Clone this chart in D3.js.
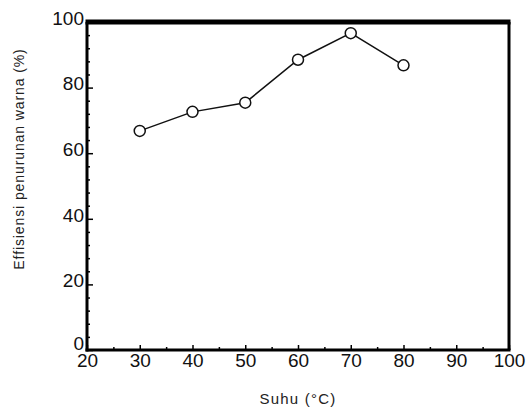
<!DOCTYPE html>
<html><head><meta charset="utf-8">
<script src="https://cdn.jsdelivr.net/npm/d3@7"></script>
<style>body{margin:0;background:#fff}svg{display:block}</style>
</head><body>
<svg id="c" width="528" height="410"></svg>
<script>
const temps = [30, 40, 50, 60, 70, 80];
const efficiency = [66.8, 72.6, 75.4, 88.5, 96.6, 86.8];
const xTicks = [20, 30, 40, 50, 60, 70, 80, 90, 100];
const yTicks = [0, 20, 40, 60, 80, 100];
const xTitle = "Suhu (°C)";
const yTitle = "Effisiensi penurunan warna (%)";

const svg = d3.select("#c");
const L = 87, R = 509, T = 22, B = 350;
const x = d3.scaleLinear().domain([20, 100]).range([L, R]);
const y = d3.scaleLinear().domain([0, 100]).range([B, T]);
const font = "Liberation Sans, Arial, sans-serif";

// Axes
const xAxis = d3.axisBottom(x).tickValues(xTicks).tickSize(-5).tickPadding(3).tickFormat(d3.format("d"));
const xMinor = d3.axisBottom(x).tickValues(d3.range(25, 100, 10)).tickSize(-3).tickFormat("");
const yAxis = d3.axisLeft(y).tickValues(yTicks).tickSize(-6).tickPadding(3).tickFormat(d3.format("d"));
const yMinor = d3.axisLeft(y).tickValues(d3.range(0, 101, 4).filter(v => v % 20 !== 0)).tickSize(-3).tickFormat("");

function style(g){
  g.select(".domain").remove();
  g.selectAll("line").attr("stroke", "#000").attr("stroke-width", 1.5);
  g.selectAll("text").attr("font-family", font).attr("font-size", 19).attr("fill", "#111");
}
svg.append("g").attr("transform", `translate(0,${B})`).call(xAxis).call(style)
  .selectAll("text").attr("dy", "0.72em");
svg.append("g").attr("transform", `translate(0,${B})`).call(xMinor).call(style);
svg.append("g").attr("transform", `translate(${L},0)`).call(yAxis).call(style)
  .selectAll("text").attr("dy", d => d === 0 ? "-0.02em" : "0.12em");
svg.append("g").attr("transform", `translate(${L},0)`).call(yMinor).call(style);

// Frame
svg.append("line").attr("x1", L).attr("x2", L).attr("y1", T).attr("y2", B + 1.5).attr("stroke", "#000").attr("stroke-width", 3);
svg.append("line").attr("x1", L - 1.5).attr("x2", R + 1.5).attr("y1", B).attr("y2", B).attr("stroke", "#000").attr("stroke-width", 3);
svg.append("line").attr("x1", R).attr("x2", R).attr("y1", T).attr("y2", B).attr("stroke", "#000").attr("stroke-width", 3);
svg.append("line").attr("x1", L - 1.5).attr("x2", R + 1.5).attr("y1", T).attr("y2", T).attr("stroke", "#000").attr("stroke-width", 5);

// Line + markers
const pts = temps.map((t, i) => [t, efficiency[i]]);
svg.append("path").datum(pts)
  .attr("d", d3.line().x(d => x(d[0])).y(d => y(d[1])))
  .attr("fill", "none").attr("stroke", "#111").attr("stroke-width", 1.5);
svg.selectAll("circle.m").data(pts).join("circle").attr("class", "m")
  .attr("cx", d => x(d[0])).attr("cy", d => y(d[1])).attr("r", 5.5)
  .attr("fill", "#fff").attr("stroke", "#111").attr("stroke-width", 1.5);

// Titles
svg.append("text").attr("x", 298).attr("y", 404).attr("text-anchor", "middle")
  .attr("font-family", font).attr("font-size", 15).attr("letter-spacing", 1.2).attr("fill", "#222").text(xTitle);
svg.append("text").attr("transform", "translate(24,159) rotate(-90)").attr("text-anchor", "middle")
  .attr("font-family", font).attr("font-size", 14).attr("letter-spacing", 0.9).attr("fill", "#222").text(yTitle);
</script>
</body></html>
